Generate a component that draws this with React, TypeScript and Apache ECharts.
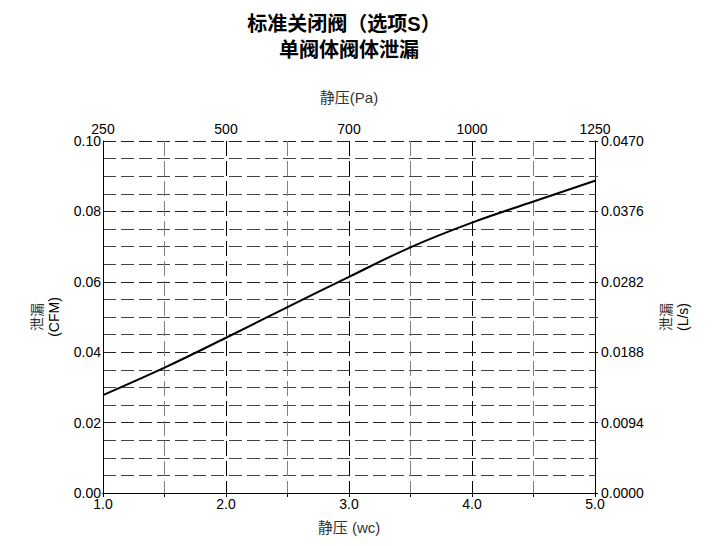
import React, { useEffect, useRef } from "react";
import * as echarts from "echarts";

const titleLines = ["标准关闭阀（选项S）", "单阀体阀体泄漏"];
const pressureWc = [1.0, 1.5, 2.0, 2.5, 3.0, 3.5, 4.0, 4.5, 5.0];
const leakageCfm = [0.0278, 0.0356, 0.0441, 0.0528, 0.0614, 0.0698, 0.0768, 0.0828, 0.0887];
const paLabels: Record<string, string> = { "1": "250", "2": "500", "3": "700", "4": "1000", "5": "1250" };

const FONT = "'Liberation Sans', Arial, 'Noto Sans CJK SC', sans-serif";

export default function App() {
  const ref = useRef<HTMLDivElement>(null);
  useEffect(() => {
    if (!ref.current) return;
    const chart = echarts.init(ref.current, null, { renderer: "svg" });
    chart.setOption({
      animation: false,
      backgroundColor: "#fff",
      textStyle: { fontFamily: FONT },
      graphic: [
        {
          type: "text",
          x: 344,
          y: 14,
          style: {
            text: titleLines[0],
            font: "bold 20px " + FONT,
            fill: "#000",
            textAlign: "center",
          },
        },
        {
          type: "text",
          x: 349,
          y: 40,
          style: {
            text: titleLines[1],
            font: "bold 20px " + FONT,
            fill: "#000",
            textAlign: "center",
          },
        },
      ],
      grid: { left: 103, right: 121, top: 141, bottom: 53 },
      xAxis: [
        {
          type: "value",
          position: "bottom",
          min: 1,
          max: 5,
          interval: 0.5,
          name: "静压 (wc)",
          nameLocation: "middle",
          nameGap: 27,
          nameTextStyle: { color: "#333", fontSize: 15, fontFamily: FONT },
          axisLine: { show: true, lineStyle: { color: "#000", width: 1 } },
          axisTick: { show: false },
          axisLabel: {
            color: "#000",
            fontSize: 14,
            margin: 4,
            formatter: (v: number) => (Math.abs(v - Math.round(v)) < 1e-6 ? v.toFixed(1) : ""),
          },
          splitLine: {
            show: true,
            lineStyle: { color: ["#000", "#808080"], type: [15, 5], width: 1 },
          },
        },
        {
          type: "value",
          position: "top",
          min: 1,
          max: 5,
          interval: 0.5,
          name: "静压(Pa)",
          nameLocation: "middle",
          nameGap: 36,
          nameTextStyle: { color: "#333", fontSize: 15, fontFamily: FONT },
          axisLine: { show: true, lineStyle: { color: "#000", width: 1 } },
          axisTick: { show: true, inside: true, length: 4, lineStyle: { color: "#000" } },
          axisLabel: {
            color: "#000",
            fontSize: 14,
            margin: 5,
            formatter: (v: number) => paLabels[String(v)] ?? "",
          },
          splitLine: { show: false },
        },
      ],
      yAxis: [
        {
          type: "value",
          position: "left",
          min: 0,
          max: 0.1,
          interval: 0.02,
          name: "{a|泄漏}\n{b|(CFM)}",
          nameLocation: "middle",
          nameRotate: 90,
          nameGap: 41,
          nameTextStyle: {
            rich: {
              a: { color: "#333", fontSize: 14, fontFamily: FONT, lineHeight: 17 },
              b: { color: "#000", fontSize: 14, fontFamily: FONT, lineHeight: 17 },
            },
          },
          axisLine: { show: true, lineStyle: { color: "#000", width: 1 } },
          axisTick: { show: false },
          axisLabel: {
            color: "#000",
            fontSize: 14,
            margin: 2,
            formatter: (v: number) => v.toFixed(2),
          },
          splitLine: { show: true, lineStyle: { color: "#222", type: [13, 5], width: 1 } },
          minorTick: { show: false, splitNumber: 4 },
          minorSplitLine: { show: true, lineStyle: { color: "#444", type: [13, 5], width: 1 } },
        },
        {
          type: "value",
          position: "right",
          min: 0,
          max: 0.047,
          interval: 0.0094,
          name: "{a|泄漏}\n{b|(L/s)}",
          nameLocation: "middle",
          nameRotate: 90,
          nameGap: 62,
          nameTextStyle: {
            rich: {
              a: { color: "#333", fontSize: 14, fontFamily: FONT, lineHeight: 17 },
              b: { color: "#000", fontSize: 14, fontFamily: FONT, lineHeight: 17 },
            },
          },
          axisLine: { show: true, lineStyle: { color: "#000", width: 1 } },
          axisTick: { show: true, inside: false, length: 3, lineStyle: { color: "#000" } },
          minorTick: { show: true, splitNumber: 2, length: 3, lineStyle: { color: "#555" } },
          axisLabel: {
            color: "#000",
            fontSize: 14,
            margin: 6,
            formatter: (v: number) => v.toFixed(4),
          },
          splitLine: { show: false },
        },
      ],
      series: [
        {
          type: "line",
          xAxisIndex: 0,
          yAxisIndex: 0,
          data: pressureWc.map((x, i) => [x, leakageCfm[i]]),
          smooth: 0.4,
          showSymbol: false,
          lineStyle: { color: "#000", width: 2 },
        },
      ],
    });
    return () => chart.dispose();
  }, []);
  return <div ref={ref} style={{ width: 716, height: 546, position: "absolute", left: 0, top: 0 }} />;
}
